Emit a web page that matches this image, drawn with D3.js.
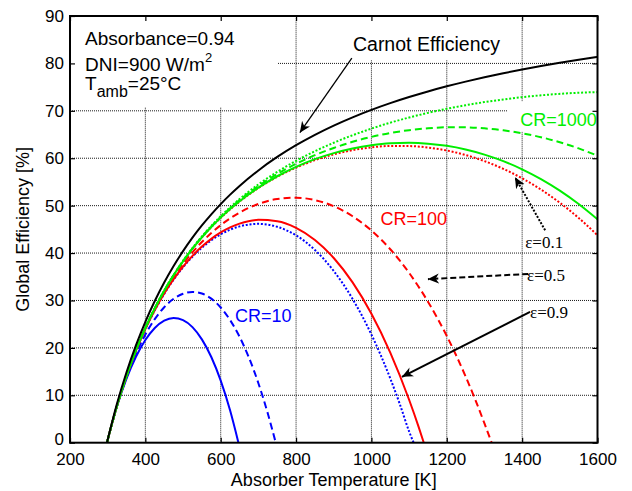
<!DOCTYPE html>
<html>
<head>
<meta charset="utf-8">
<script src="https://cdn.jsdelivr.net/npm/d3@7"></script>
<style>
  body { margin: 0; background: #fff; }
  svg { display: block; font-family: "Liberation Sans", Arial, Helvetica, sans-serif; }
  .serif { font-family: "Liberation Serif", "Times New Roman", Times, serif; }
</style>
</head>
<body>
<svg></svg>
<script>
// temperatures [K] shared by the curves that run to 1600 K
var tFull = [298, 325, 350, 375, 400, 425, 450, 475, 500, 525, 550, 575, 600, 625, 650,
             700, 750, 800, 850, 900, 950, 1000, 1050, 1100, 1150, 1200, 1250, 1300,
             1350, 1400, 1450, 1500, 1550, 1600];

// global efficiency [%]
var carnot = [0, 8.31, 14.86, 20.53, 25.50, 29.88, 33.78, 37.26, 40.40, 43.24, 45.82, 48.17, 50.33, 52.32, 54.15,
              57.43, 60.27, 62.75, 64.94, 66.89, 68.63, 70.20, 71.62, 72.91, 74.09, 75.17, 76.16, 77.08,
              77.93, 78.71, 79.45, 80.13, 80.77, 81.38];
var cr1000e01 = [0, 7.89, 14.11, 19.51, 24.23, 28.39, 32.08, 35.39, 38.37, 41.06, 43.51, 45.74, 47.78, 49.65, 51.39,
                 54.48, 57.13, 59.45, 61.48, 63.27, 64.85, 66.25, 67.50, 68.59, 69.57, 70.43, 71.18, 71.84,
                 72.40, 72.88, 73.27, 73.58, 73.81, 73.95];
var cr1000e05 = [0, 7.89, 14.11, 19.50, 24.22, 28.37, 32.05, 35.35, 38.31, 40.99, 43.41, 45.62, 47.63, 49.46, 51.16,
                 54.14, 56.66, 58.82, 60.64, 62.17, 63.46, 64.50, 65.32, 65.92, 66.32, 66.52, 66.51, 66.30,
                 65.90, 65.27, 64.44, 63.37, 62.07, 60.53];
var cr1000e09 = [0, 7.89, 14.10, 19.50, 24.20, 28.35, 32.03, 35.31, 38.25, 40.91, 43.31, 45.49, 47.47, 49.27, 50.93,
                 53.80, 56.20, 58.18, 59.80, 61.08, 62.06, 62.74, 63.14, 63.24, 63.07, 62.61, 61.84, 60.77,
                 59.39, 57.67, 55.60, 53.16, 50.34, 47.11];
var cr100e01 = [0, 7.89, 14.10, 19.49, 24.20, 28.34, 32.02, 35.30, 38.24, 40.89, 43.29, 45.46, 47.43, 49.22, 50.87,
                53.72, 56.08, 58.02, 59.59, 60.81, 61.71, 62.30, 62.59, 62.57, 62.25, 61.63, 60.67, 59.39,
                57.76, 55.77, 53.39, 50.61, 47.41, 43.75];

// curves that drop to zero before 1600 K
var tCr100e05 = [298, 325, 350, 375, 400, 425, 450, 475, 500, 525, 550, 575, 600, 625, 650,
                 700, 750, 800, 850, 900, 950, 1000, 1050, 1100, 1150, 1200, 1250, 1275, 1300, 1319];
var cr100e05 = [0, 7.88, 14.08, 19.43, 24.09, 28.16, 31.74, 34.90, 37.69, 40.15, 42.32, 44.23, 45.89, 47.32, 48.54,
                50.36, 51.39, 51.67, 51.17, 49.88, 47.76, 44.75, 40.80, 35.82, 29.75, 22.50, 13.97, 9.20, 4.06, 0];
var tCr100e09 = [298, 325, 350, 375, 400, 425, 450, 475, 500, 525, 550, 575, 600, 625, 650,
                 700, 750, 800, 850, 900, 950, 1000, 1050, 1100, 1125, 1139];
var cr100e09 = [0, 7.87, 14.05, 19.37, 23.97, 27.97, 31.46, 34.49, 37.13, 39.41, 41.36, 43.00, 44.35, 45.41, 46.21,
                47.00, 46.71, 45.32, 42.76, 38.96, 33.81, 27.20, 19.00, 9.06, 3.40, 0];
var tCr10e01 = [298, 325, 350, 375, 400, 425, 450, 475, 500, 525, 550, 575, 600, 625, 650,
                700, 750, 800, 850, 900, 950, 1000, 1050, 1075, 1100, 1112];
var cr10e01 = [0, 7.87, 14.04, 19.36, 23.95, 27.92, 31.39, 34.39, 36.99, 39.23, 41.12, 42.69, 43.96, 44.93, 45.63,
               46.16, 45.54, 43.73, 40.66, 36.22, 30.32, 22.81, 13.55, 8.22, 2.37, 0];
var tCr10e05 = [298, 325, 350, 375, 400, 425, 450, 475, 500, 525, 550, 575, 600, 625, 650, 675, 700, 725, 746];
var cr10e05 = [0, 7.80, 13.78, 18.74, 22.81, 26.06, 28.57, 30.35, 31.43, 31.81, 31.46, 30.38, 28.52, 25.85, 22.34,
               17.93, 12.55, 6.15, 0];
var tCr10e09 = [298, 325, 350, 375, 400, 425, 450, 475, 500, 525, 550, 575, 600, 625, 647];
var cr10e09 = [0, 7.74, 13.51, 18.13, 21.67, 24.20, 25.75, 26.31, 25.87, 24.38, 21.80, 18.07, 13.08, 6.77, 0];

var xTicks = [200, 400, 600, 800, 1000, 1200, 1400, 1600];
var yTicks = [0, 10, 20, 30, 40, 50, 60, 70, 80, 90];

var width = 632, height = 491,
    margin = {top: 16, right: 34.5, bottom: 48.3, left: 70};

var green = "#00ee00", red = "#ff0000", blue = "#0000ff";
var dotted = "2,1.8", dashed = "7,4";

var svg = d3.select("svg")
    .attr("width", width)
    .attr("height", height);

var x = d3.scaleLinear().domain([200, 1600]).range([margin.left, width - margin.right]),
    y = d3.scaleLinear().domain([0, 90]).range([height - margin.bottom, margin.top]);

function zip(ts, vs) {
  return ts.map(function(t, i) { return [t, vs[i]]; });
}

var series = [
  {pts: zip(tCr10e09, cr10e09), color: blue, dash: null},
  {pts: zip(tCr10e05, cr10e05), color: blue, dash: dashed},
  {pts: zip(tCr10e01, cr10e01), color: blue, dash: dotted},
  {pts: zip(tCr100e09, cr100e09), color: red, dash: null},
  {pts: zip(tCr100e05, cr100e05), color: red, dash: dashed},
  {pts: zip(tFull, cr100e01), color: red, dash: dotted},
  {pts: zip(tFull, cr1000e09), color: green, dash: null},
  {pts: zip(tFull, cr1000e05), color: green, dash: dashed},
  {pts: zip(tFull, cr1000e01), color: green, dash: dotted},
  {pts: zip(tFull, carnot), color: "#000", dash: null}
];

// grid
var grid = svg.append("g").attr("stroke", "#000").attr("stroke-width", 0.9)
    .attr("stroke-dasharray", "1,1");
grid.selectAll(".gx").data(xTicks.slice(1, -1)).enter().append("line")
    .attr("x1", function(d) { return x(d); }).attr("x2", function(d) { return x(d); })
    .attr("y1", y(0)).attr("y2", y(90));
grid.selectAll(".gy").data(yTicks.slice(1, -1)).enter().append("line")
    .attr("y1", function(d) { return y(d); }).attr("y2", function(d) { return y(d); })
    .attr("x1", x(200)).attr("x2", x(1600));

// white backgrounds of the text boxes
var boxes = [[200, 750, 90, 70.8], [930, 1381, 89.8, 80.7], [1362, 1600, 72.0, 65.6]];
svg.append("g").selectAll("rect").data(boxes).enter().append("rect")
    .attr("fill", "#fff")
    .attr("x", function(d) { return x(d[0]); })
    .attr("width", function(d) { return x(d[1]) - x(d[0]); })
    .attr("y", function(d) { return y(d[2]); })
    .attr("height", function(d) { return y(d[3]) - y(d[2]); });

svg.append("clipPath").attr("id", "plot").append("rect")
    .attr("x", x(200)).attr("y", y(90))
    .attr("width", x(1600) - x(200)).attr("height", y(0) - y(90));

var line = d3.line()
    .x(function(d) { return x(d[0]); })
    .y(function(d) { return y(d[1]); })
    .curve(d3.curveMonotoneX);

svg.append("g").attr("clip-path", "url(#plot)")
  .selectAll("path").data(series).enter().append("path")
    .attr("fill", "none")
    .attr("stroke", function(d) { return d.color; })
    .attr("stroke-width", 2)
    .attr("stroke-dasharray", function(d) { return d.dash; })
    .attr("d", function(d) { return line(d.pts); });

// arrows
svg.append("defs").append("marker")
    .attr("id", "head")
    .attr("viewBox", "0 -5 10 10")
    .attr("refX", 10).attr("refY", 0)
    .attr("markerUnits", "userSpaceOnUse")
    .attr("markerWidth", 11).attr("markerHeight", 11)
    .attr("orient", "auto")
  .append("path")
    .attr("d", "M0,-4.5L10,0L0,4.5L3,0Z")
    .attr("fill", "#000");

var arrows = [
  {from: [948, 81.1], to: [810, 65.4], dash: null, w: 1.3},
  {from: [1461, 44.8], to: [1381, 56.0], dash: "2,1.6", w: 2},
  {from: [1416, 35.6], to: [1150, 34.5], dash: "6,3", w: 2},
  {from: [1421, 27.6], to: [1081, 13.9], dash: null, w: 2}
];
svg.append("g").selectAll("line").data(arrows).enter().append("line")
    .attr("x1", function(d) { return x(d.from[0]); }).attr("y1", function(d) { return y(d.from[1]); })
    .attr("x2", function(d) { return x(d.to[0]); }).attr("y2", function(d) { return y(d.to[1]); })
    .attr("stroke", "#000")
    .attr("stroke-width", function(d) { return d.w; })
    .attr("stroke-dasharray", function(d) { return d.dash; })
    .attr("marker-end", "url(#head)");

// annotations
var ann = svg.append("g").attr("font-size", 19);
ann.append("text").attr("x", x(240)).attr("y", y(83.9)).text("Absorbance=0.94");
var dni = ann.append("text").attr("x", x(240)).attr("y", y(78.4)).text("DNI=900 W/m");
dni.append("tspan").attr("dy", -9).attr("font-size", 13).text("2");
var tamb = ann.append("text").attr("x", x(240)).attr("y", y(74.3)).text("T");
tamb.append("tspan").attr("dy", 7).attr("font-size", 16).text("amb");
tamb.append("tspan").attr("dy", -7).text("=25°C");
ann.append("text").attr("x", x(951)).attr("y", y(82.6)).attr("font-size", 19.5).text("Carnot Efficiency");

var crLabels = [
  {t: "CR=1000", at: [1395, 66.8], color: green},
  {t: "CR=100", at: [1024, 45.9], color: red},
  {t: "CR=10", at: [638, 25.5], color: blue}
];
svg.append("g").attr("font-size", 18).selectAll("text").data(crLabels).enter().append("text")
    .attr("x", function(d) { return x(d.at[0]); })
    .attr("y", function(d) { return y(d.at[1]); })
    .attr("fill", function(d) { return d.color; })
    .text(function(d) { return d.t; });

var epsLabels = [
  {t: "ε=0.1", at: [1408, 41.0]},
  {t: "ε=0.5", at: [1413, 34.1]},
  {t: "ε=0.9", at: [1421, 26.3]}
];
svg.append("g").attr("font-size", 17)
  .selectAll("text").data(epsLabels).enter().append("text")
    .attr("class", "serif")
    .attr("x", function(d) { return x(d.at[0]); })
    .attr("y", function(d) { return y(d.at[1]); })
    .text(function(d) { return d.t; });

// axes, ticks pointing inward on all four sides
var h = y(0) - y(90);
svg.append("g").attr("transform", "translate(0," + y(0) + ")")
    .call(d3.axisBottom(x).tickValues(xTicks).tickFormat(d3.format("d"))
      .tickSizeInner(-5).tickSizeOuter(0).tickPadding(10))
    .call(function(g) {
      g.selectAll("text").attr("font-size", 17).attr("fill", "#000")
        .attr("font-family", null);
    });
svg.append("g").attr("transform", "translate(0," + y(90) + ")")
    .call(d3.axisTop(x).tickValues(xTicks).tickSizeInner(-5).tickSizeOuter(0).tickFormat(""));
svg.append("g").attr("transform", "translate(" + x(200) + ",0)")
    .call(d3.axisLeft(y).tickValues(yTicks).tickSizeInner(-5).tickSizeOuter(0).tickPadding(6))
    .call(function(g) {
      g.selectAll("text").attr("font-size", 17).attr("fill", "#000");
      g.selectAll("text").filter(function(d) { return d === 0; }).attr("dy", "0.1em");
    });
svg.append("g").attr("transform", "translate(" + x(1600) + ",0)")
    .call(d3.axisRight(y).tickValues(yTicks).tickSizeInner(-5).tickSizeOuter(0).tickFormat(""));
svg.selectAll(".domain").remove();
svg.selectAll("g[font-family]").attr("font-family", null);
svg.selectAll(".tick line").attr("stroke", "#000").attr("stroke-width", 1.2);

svg.append("rect")
    .attr("x", x(200)).attr("y", y(90))
    .attr("width", x(1600) - x(200)).attr("height", h)
    .attr("fill", "none").attr("stroke", "#000").attr("stroke-width", 2);

svg.append("text")
    .attr("x", (x(200) + x(1600)) / 2).attr("y", 486)
    .attr("text-anchor", "middle").attr("font-size", 18)
    .text("Absorber Temperature [K]");
svg.append("text")
    .attr("transform", "translate(29," + (y(0) + y(90)) / 2 + ") rotate(-90)")
    .attr("text-anchor", "middle").attr("font-size", 18)
    .text("Global Efficiency [%]");
</script>
</body>
</html>
